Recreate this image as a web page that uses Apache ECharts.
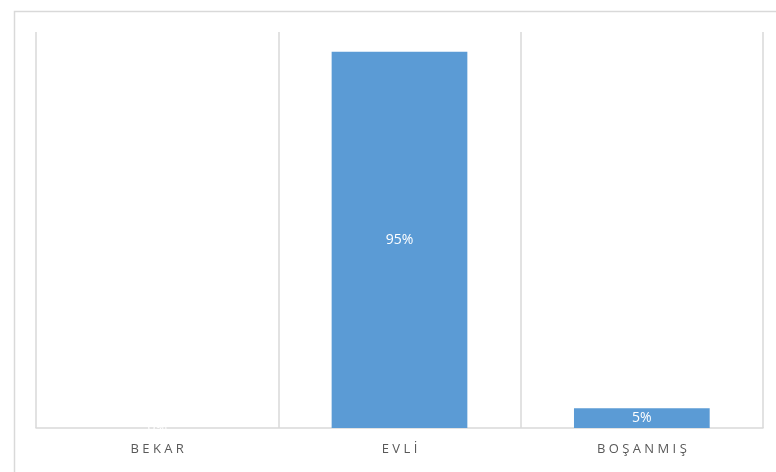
<!DOCTYPE html>
<html>
<head>
<meta charset="utf-8">
<script src="https://cdn.jsdelivr.net/npm/echarts@6/dist/echarts.min.js"></script>
<style>
  html, body { margin: 0; padding: 0; background: #ffffff; }
  #chart { width: 776px; height: 472px; }
</style>
</head>
<body>
<div id="chart"></div>
<script>
// Marital status shares (percent)
const categories = ['BEKAR', 'EVLİ', 'BOŞANMIŞ'];
const shares = [0, 95, 5];

// Spread the category names out a little: each character becomes its own
// rich-text token with a small horizontal padding.
const spaced = s => Array.from(s).map(ch => '{c|' + ch + '}').join('');

const chart = echarts.init(document.getElementById('chart'), null, { renderer: 'canvas' });

chart.setOption({
  backgroundColor: '#ffffff',
  animation: false,
  grid: { left: 36, right: 13, top: 32, bottom: 44, containLabel: false },
  graphic: [{
    type: 'rect',
    left: 12, top: 9,
    shape: { width: 800, height: 500 },
    style: { fill: 'none', stroke: '#d9d9d9', lineWidth: 1.5 },
    silent: true,
    z: -1
  }],
  xAxis: {
    type: 'category',
    data: categories,
    boundaryGap: true,
    axisLine: { show: true, lineStyle: { color: '#d9d9d9', width: 1.5 } },
    axisTick: { show: false, interval: 0 },
    splitLine: { show: true, interval: 0, lineStyle: { color: '#d9d9d9', width: 1.5 } },
    axisLabel: {
      interval: 0,
      hideOverlap: false,
      margin: 15,
      formatter: v => spaced(v),
      rich: {
        c: {
          color: '#595959',
          fontFamily: 'Open Sans',
          fontSize: 13,
          padding: [0, 1.7, 0, 1.7]
        }
      }
    }
  },
  yAxis: {
    type: 'value',
    min: 0,
    max: 100,
    show: false,
    splitLine: { show: false }
  },
  series: [{
    type: 'bar',
    data: shares,
    barWidth: '56%',
    itemStyle: { color: '#5b9bd5' },
    label: {
      show: true,
      position: 'inside',
      color: '#ffffff',
      fontFamily: 'Open Sans',
      fontSize: 14,
      formatter: p => p.value + '%'
    }
  }]
});
</script>
</body>
</html>
